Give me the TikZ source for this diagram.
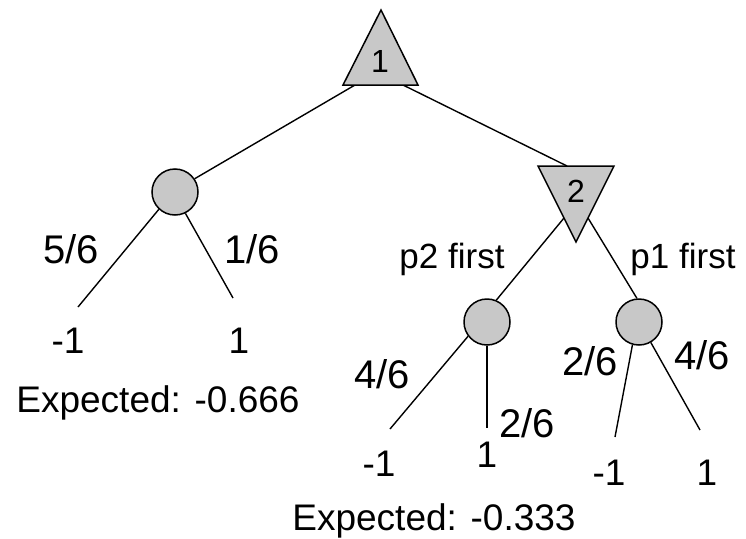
\documentclass[tikz,border=0pt]{standalone}
\usepackage{fontspec}
\setmainfont{Liberation Sans}
\begin{document}
\begin{tikzpicture}[x=1pt,y=-1pt,
  edge/.style={line width=1.4pt},
  chance/.style={circle,draw,line width=1.5pt,fill=nodegray,minimum size=46pt,inner sep=0pt},
  tri/.style={draw,line width=1.5pt,fill=nodegray,line join=miter},
  lbl/.style={anchor=base,inner sep=0pt,font=\fontsize{37}{44}\selectfont},
  frac/.style={anchor=base,inner sep=0pt,font=\fontsize{40}{48}\selectfont},
  plbl/.style={anchor=base,inner sep=0pt,font=\fontsize{35}{42}\selectfont},
  tlbl/.style={anchor=base,inner sep=0pt,font=\fontsize{32}{38}\selectfont}]
\definecolor{nodegray}{RGB}{200,200,200}
\useasboundingbox (0,0) rectangle (746,538);
% coordinates
\coordinate (t1bl) at (355,85);
\coordinate (t1br) at (403,85);
\coordinate (t2top) at (567,166);
\coordinate (t2l) at (564,218);
\coordinate (t2r) at (588,218);
\coordinate (l1) at (78,307);
\coordinate (l2) at (233,298);
\coordinate (l3) at (390,429);
\coordinate (l4) at (487,428);
\coordinate (l5) at (615,437);
\coordinate (l6) at (700,430);
% chance nodes
\node[chance] (c1) at (175,192) {};
\node[chance] (c2) at (487,322) {};
\node[chance] (c3) at (639,322) {};
% edges
\draw[edge] (t1bl) -- (c1.34);
\draw[edge] (t1br) -- (t2top);
\draw[edge] (t2l) -- (c2.67);
\draw[edge] (t2r) -- (c3.95);
\draw[edge] (c1.227) -- (l1);
\draw[edge] (c1.296) -- (l2);
\draw[edge] (c2.217) -- (l3);
\draw[edge] (c2.270) -- (l4);
\draw[edge] (c3.254) -- (l5);
\draw[edge] (c3.300) -- (l6);
% triangles
\draw[tri] (381,10) -- (343,85) -- (418,85) -- cycle;
\draw[tri] (538,166) -- (614,166) -- (576,242) -- cycle;
\node[tlbl] (n1) at (380,72) {1};
\node[tlbl] (n2) at (576,202) {2};
% labels
\node[frac] (a1) at (71,263) {5/6};
\node[frac] (a2) at (252,263) {1/6};
\node[lbl] (v1) at (68,353) {-1};
\node[lbl] (v2) at (239,353) {1};
\node[lbl] (e1) at (158,412) {Expected: -0.666};
\node[plbl] (p2) at (452,268) {p2 first};
\node[plbl] (p1) at (683,268) {p1 first};
\node[frac] (a3) at (382,388) {4/6};
\node[frac] (a4) at (527,437) {2/6};
\node[frac] (a5) at (590,375) {2/6};
\node[frac] (a6) at (702,369) {4/6};
\node[lbl] (v3) at (379,476) {-1};
\node[lbl] (v4) at (487,467) {1};
\node[lbl] (v5) at (609,485) {-1};
\node[lbl] (v6) at (707,485) {1};
\node[lbl] (e2) at (434,530) {Expected: -0.333};
\end{tikzpicture}
\end{document}
